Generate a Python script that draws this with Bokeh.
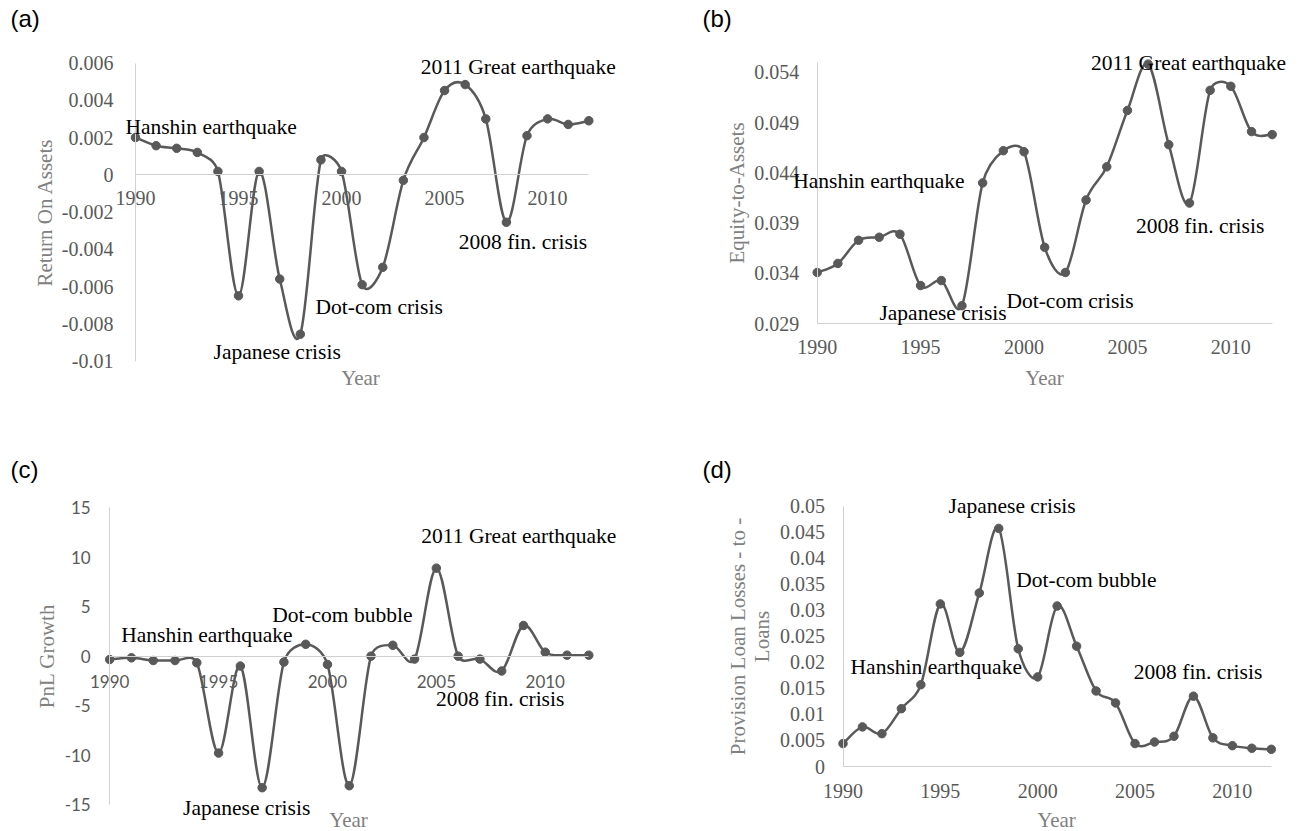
import numpy as np
from bokeh.plotting import figure
from bokeh.models import Range1d, FixedTicker, Label, ColumnDataSource
from bokeh.layouts import column, row
from bokeh.embed import file_html
from bokeh.resources import INLINE

# ---------------- data ----------------
years = list(range(1990, 2013))

return_on_assets = [0.0020, 0.00156, 0.00142, 0.0012, 0.00018, -0.0065, 0.00018, -0.0056,
                    -0.00856, 0.0008, 0.00018, -0.0059, -0.00497, -0.0003, 0.0020, 0.00452,
                    0.00484, 0.0030, -0.00255, 0.0021, 0.0030, 0.0027, 0.0029]

equity_to_assets = [0.0341, 0.0350, 0.0373, 0.0376, 0.0379, 0.0328, 0.0333, 0.0308, 0.0430,
                    0.0462, 0.0461, 0.0366, 0.0341, 0.0413, 0.0446, 0.0502, 0.0548, 0.0468,
                    0.0410, 0.0522, 0.0526, 0.0481, 0.0478]

pnl_growth = [-0.34, -0.17, -0.44, -0.44, -0.67, -9.8, -1.0, -13.3, -0.6, 1.2, -0.84, -13.1,
              0.0, 1.1, -0.3, 8.9, 0.0, -0.3, -1.5, 3.1, 0.4, 0.1, 0.1]

provision_ratio = [0.0044, 0.0076, 0.0063, 0.0111, 0.0157, 0.0312, 0.0219, 0.0333, 0.0457,
                   0.0226, 0.0172, 0.0308, 0.0231, 0.0145, 0.0122, 0.0044, 0.0047, 0.0058,
                   0.0135, 0.0055, 0.0040, 0.0035, 0.0033]

x_ticks = [1990, 1995, 2000, 2005, 2010]
x_tick_labels = ["1990", "1995", "2000", "2005", "2010"]

a_ticks = [0.006, 0.004, 0.002, 0, -0.002, -0.004, -0.006, -0.008, -0.01]
a_tick_labels = ["0.006", "0.004", "0.002", "0", "-0.002", "-0.004", "-0.006", "-0.008", "-0.01"]
b_ticks = [0.054, 0.049, 0.044, 0.039, 0.034, 0.029]
b_tick_labels = ["0.054", "0.049", "0.044", "0.039", "0.034", "0.029"]
c_ticks = [15, 10, 5, 0, -5, -10, -15]
c_tick_labels = ["15", "10", "5", "0", "-5", "-10", "-15"]
d_ticks = [0.05, 0.045, 0.04, 0.035, 0.03, 0.025, 0.02, 0.015, 0.01, 0.005, 0]
d_tick_labels = ["0.05", "0.045", "0.04", "0.035", "0.03", "0.025", "0.02", "0.015", "0.01", "0.005", "0"]

# event annotations: (text, year, value)
a_notes = [("Hanshin earthquake", 1989.51, 0.00223),
           ("2011 Great earthquake", 2003.84, 0.00545),
           ("Dot-com crisis", 1998.74, -0.00744),
           ("Japanese crisis", 1993.79, -0.00985),
           ("2008 fin. crisis", 2005.69, -0.00395)]
b_notes = [("2011 Great earthquake", 2003.24, 0.05427),
           ("Hanshin earthquake", 1988.84, 0.04257),
           ("2008 fin. crisis", 2005.41, 0.0381),
           ("Dot-com crisis", 1999.15, 0.03064),
           ("Japanese crisis", 1993.01, 0.02949)]
c_notes = [("2011 Great earthquake", 2004.31, 11.53),
           ("Dot-com bubble", 1997.46, 3.54),
           ("Hanshin earthquake", 1990.53, 1.52),
           ("2008 fin. crisis", 2004.98, -4.98),
           ("Japanese crisis", 1993.37, -15.94)]
d_notes = [("Japanese crisis", 1995.42, 0.0488),
           ("Dot-com bubble", 1998.9, 0.03455),
           ("Hanshin earthquake", 1990.39, 0.0179),
           ("2008 fin. crisis", 2004.94, 0.01695)]

# ---------------- style ----------------
SERIF = "Liberation Serif"
SANS = "Liberation Sans"
LINE = "#595959"
AXIS = "#d0d0d0"
TICK = "#595959"
TITLE = "#808080"


def smooth_source(xs, ys, sx, sy):
    """Excel-style smoothed line: cubic Bezier segments, control arms capped
    at half the segment length (computed in screen-scaled space)."""
    P = np.column_stack([np.asarray(xs, float) * sx, np.asarray(ys, float) * sy])
    n = len(P)
    segs = {k: [] for k in ("x0", "y0", "x1", "y1", "cx0", "cy0", "cx1", "cy1")}
    for i in range(n - 1):
        p0 = P[i - 1] if i > 0 else P[i]
        p1, p2 = P[i], P[i + 1]
        p3 = P[i + 2] if i + 2 < n else P[i + 1]
        d12 = np.hypot(*(p2 - p1))
        d02 = np.hypot(*(p2 - p0))
        d13 = np.hypot(*(p3 - p1))
        f0 = 1.0 / 6.0
        f1 = 1.0 / 6.0
        if d02 > 0 and d02 / 6.0 >= d12 / 2.0:
            f0 = d12 / 2.0 / d02
        if d13 > 0 and d13 / 6.0 >= d12 / 2.0:
            f1 = d12 / 2.0 / d13
        c1 = p1 + f0 * (p2 - p0)
        c2 = p2 - f1 * (p3 - p1)
        segs["x0"].append(p1[0] / sx); segs["y0"].append(p1[1] / sy)
        segs["x1"].append(p2[0] / sx); segs["y1"].append(p2[1] / sy)
        segs["cx0"].append(c1[0] / sx); segs["cy0"].append(c1[1] / sy)
        segs["cx1"].append(c2[0] / sx); segs["cy1"].append(c2[1] / sy)
    return ColumnDataSource(segs)


def panel(tag, vals, canvas, xmap, ymap, ybounds, yticks, ylabels, ytitle, xfix, notes,
          tick_font, tick_size, ylab_standoff, xlab_standoff, ytitle_standoff,
          tag_ref, year_ref):
    cx, cy, W, H = canvas
    (xa0, px0), (xa1, px1) = xmap
    (yv0, py0), (yv1, py1) = ymap
    sx = (px1 - px0) / (xa1 - xa0)
    x_start = xa0 - (px0 - cx) / sx
    sy = (py1 - py0) / (yv0 - yv1)
    y_end = yv0 + (py0 - cy) / sy
    p = figure(width=W, height=H,
               x_range=Range1d(x_start, x_start + W / sx),
               y_range=Range1d(y_end - H / sy, y_end),
               output_backend="svg", toolbar_location=None, min_border=0)
    p.title.visible = False
    p.outline_line_color = None
    p.xgrid.visible = False
    p.ygrid.visible = False
    p.background_fill_color = "white"
    p.border_fill_color = "white"

    xa = p.xaxis[0]
    xa.fixed_location = xfix
    xa.ticker = FixedTicker(ticks=x_ticks)
    xa.major_label_overrides = {tk: s for tk, s in zip(x_ticks, x_tick_labels)}
    xa.bounds = (years[0], years[-1])
    ya = p.yaxis[0]
    ya.fixed_location = years[0]
    ya.ticker = FixedTicker(ticks=yticks)
    ya.major_label_overrides = {tk: s for tk, s in zip(yticks, ylabels)}
    ya.bounds = ybounds
    ya.axis_label = ytitle
    ya.axis_label_text_font = SERIF
    ya.axis_label_text_font_size = "21px"
    ya.axis_label_text_font_style = "normal"
    ya.axis_label_text_color = TITLE
    ya.axis_label_text_line_height = 1.0
    ya.axis_label_standoff = ytitle_standoff
    ya.major_label_standoff = ylab_standoff
    xa.major_label_standoff = xlab_standoff
    for ax in (xa, ya):
        ax.axis_line_color = AXIS
        ax.axis_line_width = 1
        ax.major_tick_line_color = None
        ax.minor_tick_line_color = None
        ax.major_tick_out = 0
        ax.major_tick_in = 0
        ax.major_label_text_font = tick_font
        ax.major_label_text_font_size = tick_size
        ax.major_label_text_color = TICK

    p.bezier(x0="x0", y0="y0", x1="x1", y1="y1", cx0="cx0", cy0="cy0", cx1="cx1", cy1="cy1",
             source=smooth_source(years, vals, sx, sy), line_color=LINE, line_width=2.5)
    p.scatter(x=years, y=vals, size=8.5, marker="circle", fill_color=LINE, line_color=LINE)

    for txt, nx, ny in notes:
        p.add_layout(Label(x=nx, y=ny, y_offset=6, text=txt, text_font=SERIF,
                           text_font_size="21.5px", text_color="black",
                           text_align="left", text_baseline="alphabetic"))

    p.add_layout(Label(x=year_ref[0] - cx, y=cy + H - year_ref[1], x_units="screen", y_units="screen",
                       text="Year", text_font=SERIF, text_font_size="21px", text_color=TITLE,
                       text_align="center", text_baseline="middle"))
    p.add_layout(Label(x=tag_ref[0] - cx, y=cy + H - tag_ref[1], x_units="screen", y_units="screen",
                       text=tag, text_font=SANS, text_font_size="24px", text_color="black",
                       text_align="left", text_baseline="middle"))
    return p


pa = panel("(a)", return_on_assets, (0, 0, 650, 448),
           ((1990, 135.0), (2012, 588.3)), ((0.006, 62.5), (-0.01, 360.5)),
           (-0.01, 0.006), a_ticks, a_tick_labels, "Return On Assets", 0, a_notes,
           SERIF, "20px", 22, 16, 2, (10, 18), (360, 377))
pb = panel("(b)", equity_to_assets, (650, 0, 658, 448),
           ((1990, 816.7), (2012, 1271.7)), ((0.054, 71.7), (0.029, 323.3)),
           (0.029, 0.055), b_ticks, b_tick_labels, "Equity-to-Assets", 0.029, b_notes,
           SERIF, "20px", 18, 16, 3, (702, 18), (1044, 377))
pc = panel("(c)", pnl_growth, (0, 448, 650, 383),
           ((1990, 109.2), (2012, 588.3)), ((15, 507.3), (-15, 804.0)),
           (-15, 15), c_ticks, c_tick_labels, "PnL Growth", 0, c_notes,
           "Lato", "17px", 19, 19, 2, (10, 469), (348, 819))
pd_ = panel("(d)", provision_ratio, (650, 448, 658, 383),
            ((1990, 842.5), (2012, 1270.8)), ((0.05, 505.5), (0, 766.0)),
            (0, 0.05), d_ticks, d_tick_labels, "Provision Loan Losses - to -\nLoans", 0, d_notes,
            SERIF, "20px", 18, 17, 4, (702, 469), (1056, 819))

layout = column(row(pa, pb), row(pc, pd_))
open("out.html", "w").write(file_html(layout, INLINE, title="Bank indicators"))
